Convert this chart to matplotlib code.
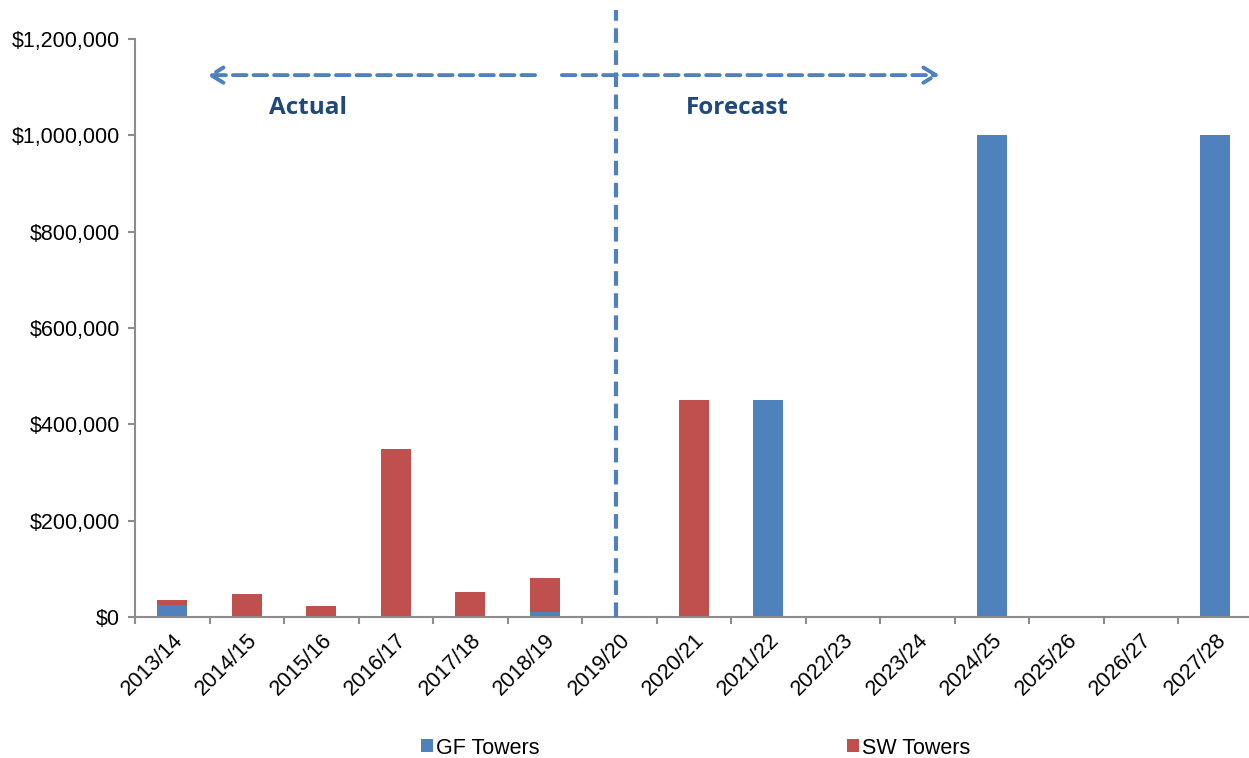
import numpy as np
import matplotlib
matplotlib.use("Agg")
import matplotlib.pyplot as plt
from matplotlib.ticker import FuncFormatter, FixedLocator

plt.rcParams['font.family'] = ['Liberation Sans', 'DejaVu Sans']

years = ['2013/14', '2014/15', '2015/16', '2016/17', '2017/18', '2018/19', '2019/20',
         '2020/21', '2021/22', '2022/23', '2023/24', '2024/25', '2025/26', '2026/27', '2027/28']
gf_towers = [24000, 0, 0, 0, 0, 10000, 0, 0, 450000, 0, 0, 1000000, 0, 0, 1000000]
sw_towers = [11000, 47000, 22000, 348000, 51000, 70000, 0, 450000, 0, 0, 0, 0, 0, 0, 0]

blue = '#4F81BD'
red = '#C0504D'
grey = '#8C8C8C'

fig = plt.figure(figsize=(12.49, 7.58), dpi=100)
ax = fig.add_axes([135 / 1249, 1 - 617 / 758, 1117.5 / 1249, 578 / 758])

x = np.arange(len(years))
ax.bar(x, gf_towers, width=0.4, color=blue, label='GF Towers', zorder=2)
ax.bar(x, sw_towers, width=0.4, bottom=gf_towers, color=red, label='SW Towers', zorder=2)

ax.set_xlim(-0.5, len(years) - 0.5)
ax.set_ylim(0, 1200000)
ax.set_yticks(np.arange(0, 1200001, 200000))
ax.yaxis.set_major_formatter(FuncFormatter(lambda v, p: '${:,.0f}'.format(v)))
ax.set_xticks(x)
ax.set_xticklabels(years, rotation=45, ha='right', rotation_mode='anchor')
ax.xaxis.set_minor_locator(FixedLocator(np.arange(-0.5, len(years), 1)))
ax.tick_params(axis='x', which='major', length=0, labelsize=15.5, pad=9)
ax.tick_params(axis='x', which='minor', length=5, color=grey, width=1.5)
ax.tick_params(axis='y', length=5, color=grey, width=1.5, labelsize=15.5, pad=6)

for s in ['top', 'right']:
    ax.spines[s].set_visible(False)
for s in ['left', 'bottom']:
    ax.spines[s].set_color(grey)
    ax.spines[s].set_linewidth(1.5)

# divider between actual and forecast
ax.plot([5.95, 5.95], [0, 1.05], transform=ax.get_xaxis_transform(), color=blue,
        lw=3, ls=(0, (3.5, 1.8)), clip_on=False, zorder=3)

# arrows
arrow_y = 1125000
ax.annotate('', xy=(0.47, arrow_y), xytext=(4.87, arrow_y),
            arrowprops=dict(arrowstyle='->,head_length=0.9,head_width=0.55', color=blue,
                            lw=2.8, ls=(0, (3.5, 1.8)), shrinkA=0, shrinkB=0))
ax.annotate('', xy=(10.3, arrow_y), xytext=(5.23, arrow_y),
            arrowprops=dict(arrowstyle='->,head_length=0.9,head_width=0.55', color=blue,
                            lw=2.8, ls=(0, (3.5, 1.8)), shrinkA=0, shrinkB=0))

ax.text(1.82, 1056000, 'Actual', color='#1F497D', fontsize=17.5, fontweight='bold',
        ha='center', va='center', family=['Open Sans', 'DejaVu Sans'])
ax.text(7.58, 1056000, 'Forecast', color='#1F497D', fontsize=17.5, fontweight='bold',
        ha='center', va='center', family=['Open Sans', 'DejaVu Sans'])

fig.legend(loc='center', bbox_to_anchor=(0.557, 1 - 748 / 758), ncol=2, frameon=False,
           fontsize=15.5, handlelength=0.55, handleheight=0.55, handletextpad=0.15,
           columnspacing=14.3)

fig.savefig('out.png', dpi=100)
